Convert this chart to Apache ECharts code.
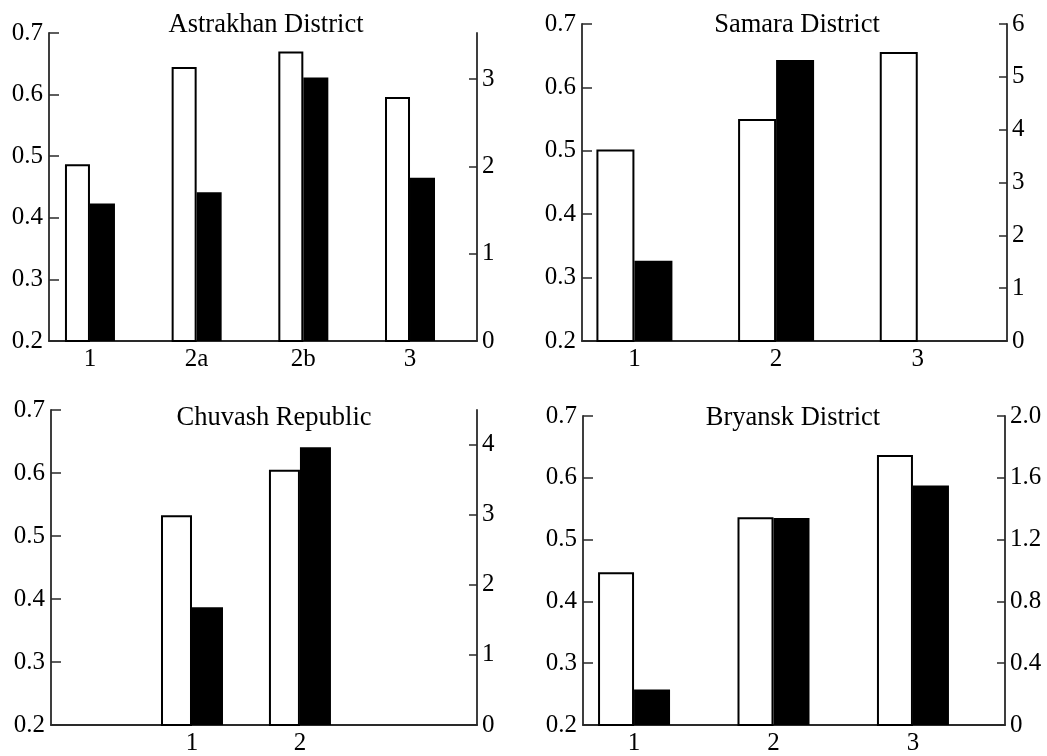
<!DOCTYPE html>
<html>
<head>
<meta charset="utf-8">
<script src="https://cdn.jsdelivr.net/npm/echarts@6/dist/echarts.min.js"></script>
<style>
html,body{margin:0;padding:0;background:#fff;}
#chart{width:1047px;height:756px;}
</style>
</head>
<body>
<div id="chart"></div>
<script>
// ---- data ----
const titles = ['Astrakhan District', 'Samara District', 'Chuvash Republic', 'Bryansk District'];

const astrakhanCats = ['1', '2a', '2b', '3'];
const astrakhanWhite = [0.487, 0.645, 0.670, 0.596];
const astrakhanBlack = [1.575, 1.705, 3.02, 1.87];

const samaraCats = ['1', '2', '3'];
const samaraWhite = [0.502, 0.550, 0.656];
const samaraBlack = [1.52, 5.32, 0];

const chuvashCats = ['1', '2'];
const chuvashWhite = [0.533, 0.605];
const chuvashBlack = [1.68, 3.96];

const bryanskCats = ['1', '2', '3'];
const bryanskWhite = [0.447, 0.536, 0.637];
const bryanskBlack = [0.23, 1.34, 1.55];

const leftTicks = [0.2, 0.3, 0.4, 0.5, 0.6, 0.7];
const rightTicksAstrakhan = [0, 1, 2, 3];
const rightTicksSamara = [0, 1, 2, 3, 4, 5, 6];
const rightTicksChuvash = [0, 1, 2, 3, 4];
const rightTicksBryansk = [0, 0.4, 0.8, 1.2, 1.6, 2.0];

// ---- layout ----
const FONT = 'Liberation Serif';
const AXIS = '#2a2a2a';
const panels = [
  {cats: astrakhanCats, white: astrakhanWhite, black: astrakhanBlack, rTicks: rightTicksAstrakhan, rMax: 3.53, rDec: 0,
   grid: {left: 49, top: 33, width: 428, height: 308}, xMin: 0.616, xMax: 4.628, barW: 25, title: [266, 25]},
  {cats: samaraCats, white: samaraWhite, black: samaraBlack, rTicks: rightTicksSamara, rMax: 6, rDec: 0,
   grid: {left: 582, top: 24, width: 425, height: 317}, xMin: 0.63, xMax: 3.63, barW: 38, title: [797, 25]},
  {cats: chuvashCats, white: chuvashWhite, black: chuvashBlack, rTicks: rightTicksChuvash, rMax: 4.49, rDec: 0,
   grid: {left: 51, top: 410, width: 426, height: 319}, xMin: -0.306, xMax: 3.64, barW: 31, title: [274, 418]},
  {cats: bryanskCats, white: bryanskWhite, black: bryanskBlack, rTicks: rightTicksBryansk, rMax: 2.0, rDec: 1,
   grid: {left: 583, top: 416, width: 422, height: 312}, xMin: 0.634, xMax: 3.66, barW: 36, title: [793, 418]}
];

const grid = [], xAxis = [], yAxis = [], series = [], graphic = [];
const lbl = {color: '#000', fontFamily: FONT, fontSize: 25};
const axLine = {show: true, onZero: false, lineStyle: {color: AXIS, width: 1.8}};

panels.forEach((p, i) => {
  grid.push(Object.assign({containLabel: false}, p.grid));
  const xs = p.cats.map((c, k) => k + 1);
  xAxis.push({
    type: 'value', gridIndex: i, min: p.xMin, max: p.xMax,
    axisLine: axLine,
    axisTick: {show: false},
    splitLine: {show: false},
    axisLabel: Object.assign({}, lbl, {
      margin: 6, customValues: xs,
      formatter: v => p.cats[Math.round(v) - 1] || ''
    })
  });
  yAxis.push({
    type: 'value', gridIndex: i, position: 'left', min: 0.2, max: 0.7,
    axisLine: axLine,
    axisTick: {show: true, inside: true, length: 10, customValues: leftTicks, lineStyle: {color: AXIS, width: 1.5}},
    splitLine: {show: false},
    axisLabel: Object.assign({}, lbl, {margin: 6, customValues: leftTicks, formatter: v => v.toFixed(1)})
  });
  yAxis.push({
    type: 'value', gridIndex: i, position: 'right', min: 0, max: p.rMax,
    axisLine: axLine,
    axisTick: {show: true, inside: true, length: 8, customValues: p.rTicks, lineStyle: {color: AXIS, width: 1.5}},
    splitLine: {show: false},
    axisLabel: Object.assign({}, lbl, {margin: 5, customValues: p.rTicks,
      formatter: v => (v === 0 ? '0' : v.toFixed(p.rDec))})
  });
  series.push({
    type: 'bar', xAxisIndex: i, yAxisIndex: 2 * i, barWidth: p.barW, barGap: '0%',
    data: xs.map((x, k) => [x, p.white[k]]),
    itemStyle: {color: '#fff', borderColor: '#000', borderWidth: 2},
    silent: true, animation: false
  });
  series.push({
    type: 'bar', xAxisIndex: i, yAxisIndex: 2 * i + 1, barWidth: p.barW, barGap: '0%',
    data: xs.map((x, k) => [x, p.black[k]]),
    itemStyle: {color: '#000', borderWidth: 0},
    silent: true, animation: false
  });
  graphic.push({
    type: 'text', x: p.title[0], y: p.title[1], z: 100,
    style: {text: titles[i], fill: '#000', font: '26.5px "' + FONT + '"', textAlign: 'center', textVerticalAlign: 'middle'}
  });
});

const chart = echarts.init(document.getElementById('chart'), null, {renderer: 'canvas'});
chart.setOption({
  animation: false,
  backgroundColor: '#fff',
  grid, xAxis, yAxis, series, graphic
});
</script>
</body>
</html>
